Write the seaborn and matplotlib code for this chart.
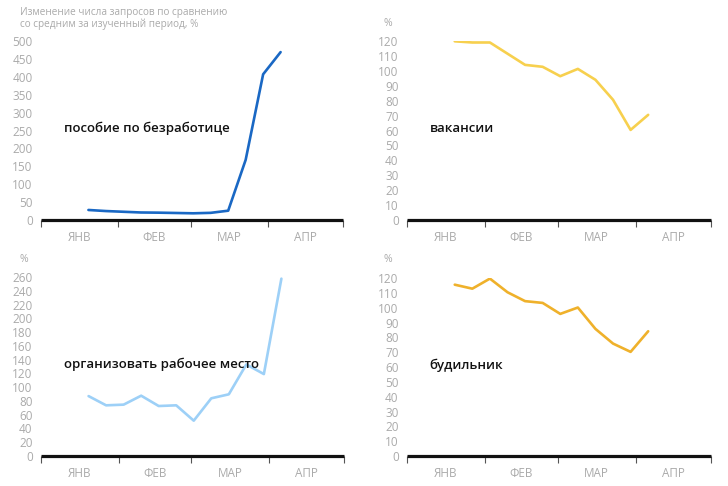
import matplotlib
matplotlib.use("Agg")
import matplotlib.pyplot as plt
import seaborn as sns
import pandas as pd
import numpy as np

dates = ["2020-01-20", "2020-01-27", "2020-02-03", "2020-02-10", "2020-02-17", "2020-02-24",
         "2020-03-02", "2020-03-09", "2020-03-16", "2020-03-23", "2020-03-30", "2020-04-06"]
unemployment = [28, 25, 23, 21, 20.5, 19.6, 18.7, 20, 26, 168, 407, 469]
vacancies = [119.8, 119, 119, 111.5, 104, 102.7, 96.4, 101.3, 94, 80.6, 60.4, 70.5]
workplace = [87, 73.6, 74.6, 87.6, 72.6, 73.6, 51.3, 83.8, 89.6, 133, 119, 257.6]
alarm = [115.5, 112.8, 119.6, 110.4, 104.4, 103.2, 95.8, 100.1, 85.7, 75.8, 70.2, 84.1]

labels = ["пособие по безработице", "вакансии", "организовать рабочее место", "будильник"]
month_labels = ["ЯНВ", "ФЕВ", "МАР", "АПР"]
colors = ["#1a68c4", "#f7d04e", "#9dd0f7", "#efb12b"]
ymax = [500, 120, 260, 120]
ystep = [50, 10, 20, 10]

sns.set_theme(style="white")
plt.rcParams['font.family'] = ['Open Sans', 'DejaVu Sans']

fig = plt.figure(figsize=(7.28, 4.86), dpi=100)
W, H = 728, 486

def ax_at(x0, x1, ytop, ybot):
    return fig.add_axes([x0 / W, (H - ybot) / H, (x1 - x0) / W, (ybot - ytop) / H])

axes = [ax_at(41, 343, 41, 220), ax_at(407, 711, 41, 220),
        ax_at(41, 344, 277, 456), ax_at(407, 711, 278, 456)]

series = [unemployment, vacancies, workplace, alarm]
month_starts = pd.to_datetime(["2020-01-01", "2020-02-01", "2020-03-01", "2020-04-01", "2020-05-01"])
month_mids = month_starts[:-1] + (month_starts[1:] - month_starts[:-1]) / 2

for i, ax in enumerate(axes):
    df = pd.DataFrame({"date": pd.to_datetime(dates), "value": series[i]})
    sns.lineplot(data=df, x="date", y="value", ax=ax, color=colors[i], linewidth=1.9)
    ax.set_xlim(month_starts[0], month_starts[-1])
    ax.set_ylim(0, ymax[i])
    ax.set_yticks(np.arange(0, ymax[i] + 1, ystep[i]))
    ax.tick_params(axis="y", length=0, labelsize=8.5, labelcolor="#aaaaaa", pad=6)
    ax.set_xticks(month_starts)
    ax.set_xticklabels([])
    ax.set_xticks(month_mids, minor=True)
    ax.set_xticklabels(month_labels, minor=True)
    ax.tick_params(axis="x", which="major", length=5, width=0.8, color="#555555", direction="out", bottom=True)
    ax.tick_params(axis="x", which="minor", length=0, labelsize=8.5, labelcolor="#aaaaaa", pad=8)
    ax.set_xlabel("")
    ax.set_ylabel("")
    for s in ["top", "right", "left"]:
        ax.spines[s].set_visible(False)
    ax.spines["bottom"].set_linewidth(2.3)
    ax.spines["bottom"].set_color("#111111")
    ax.spines["bottom"].set_capstyle("butt")
    ax.patch.set_alpha(0)
    ax.text(0.075, 0.51, labels[i], transform=ax.transAxes, fontsize=9.5,
            fontweight="semibold", color="#111111", va="center", ha="left")

fig.text(20 / W, 1 - 7 / H, "Изменение числа запросов по сравнению\nсо средним за изученный период, %",
         fontsize=7.2, color="#aaaaaa", va="top", ha="left", linespacing=1.1)
fig.text(384 / W, 1 - 23 / H, "%", fontsize=7.5, color="#aaaaaa", va="center", ha="left")
fig.text(20 / W, 1 - 259 / H, "%", fontsize=7.5, color="#aaaaaa", va="center", ha="left")
fig.text(384 / W, 1 - 259 / H, "%", fontsize=7.5, color="#aaaaaa", va="center", ha="left")

fig.savefig("out.png", dpi=100)
